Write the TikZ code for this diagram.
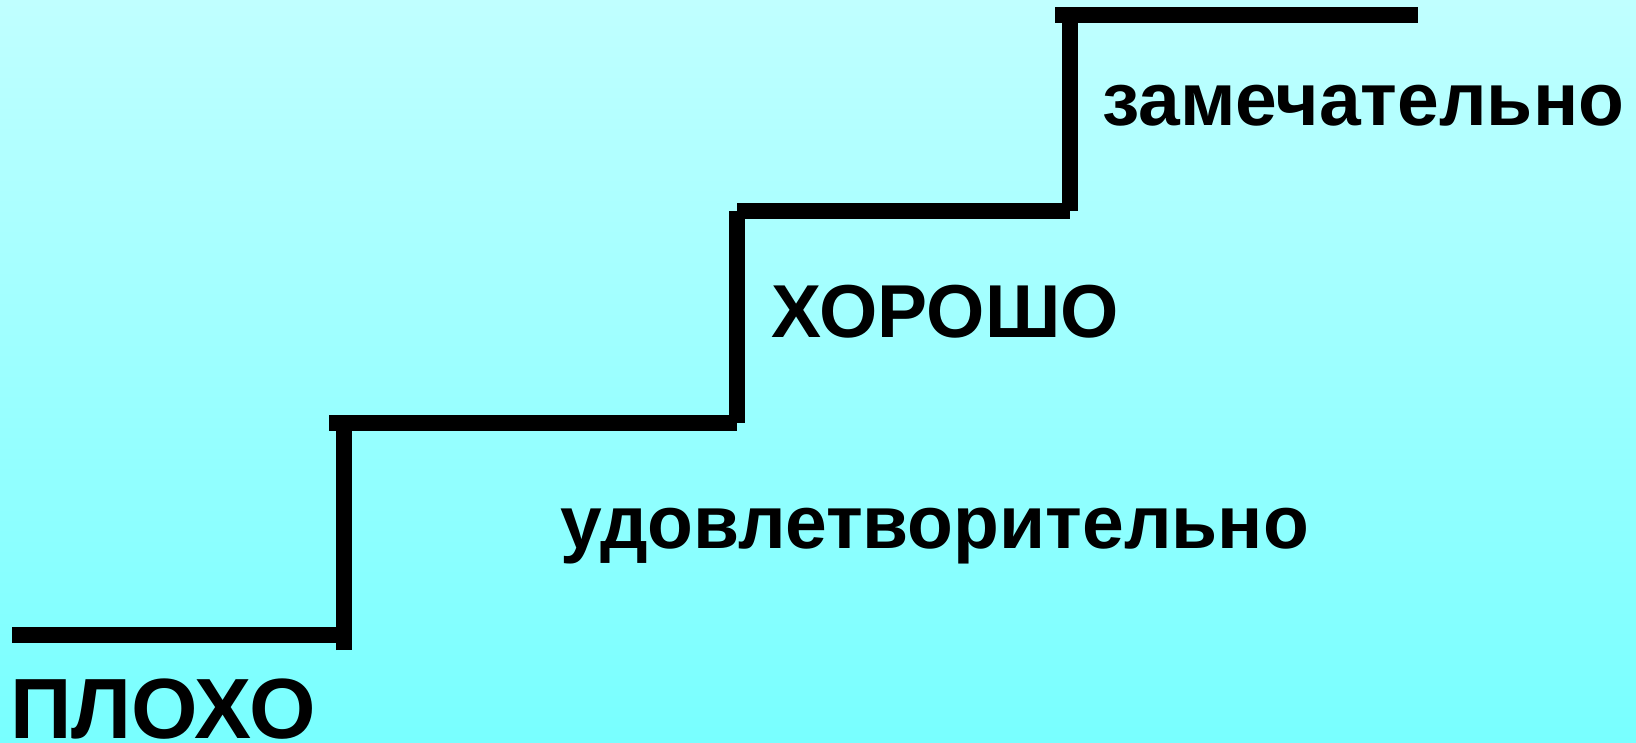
\documentclass[tikz,border=0pt]{standalone}
\usepackage{fontspec}
\setmainfont{Liberation Sans}
\definecolor{bgtop}{RGB}{192,255,255}
\definecolor{bgbot}{RGB}{120,255,255}
\begin{document}
\begin{tikzpicture}[x=1pt,y=-1pt,
  stair/.style={line width=16pt,line cap=butt,black},
  lbl/.style={anchor=base west,inner sep=0pt,font=\bfseries}]
\useasboundingbox (0,0) rectangle (1636,742);
\shade[top color=bgtop,bottom color=bgbot] (0,0) rectangle (1636,742);
% stair corners
\coordinate (h1a) at (12,635);
\coordinate (h1b) at (344,635);
\coordinate (v1a) at (344,650);
\coordinate (v1b) at (344,415);
\coordinate (h2a) at (329,423);
\coordinate (h2b) at (737,423);
\coordinate (v2a) at (737,423);
\coordinate (v2b) at (737,211);
\coordinate (h3a) at (737,211);
\coordinate (h3b) at (1070,211);
\coordinate (v3a) at (1070,211);
\coordinate (v3b) at (1070,14.5);
\coordinate (h4a) at (1055,14.5);
\coordinate (h4b) at (1418,14.5);
\draw[stair] (h1a) -- (h1b);
\draw[stair] (v1a) -- (v1b);
\draw[stair] (h2a) -- (h2b);
\draw[stair] (v2a) -- (v2b);
\draw[stair] (h3a) -- (h3b);
\draw[stair] (v3a) -- (v3b);
\draw[stair] (h4a) -- (h4b);
% labels
\node[lbl,font=\bfseries\fontsize{85.5}{90}\selectfont] (plokho) at (10,738.5) {ПЛОХО};
\node[lbl,font=\bfseries\fontsize{75}{80}\selectfont] (udovl) at (560,548) {удовлетворительно};
\node[lbl,font=\bfseries\fontsize{75}{80}\selectfont] (khor) at (771,337) {ХОРОШО};
\node[lbl,font=\bfseries\fontsize{75}{80}\selectfont] (zamech) at (1102,125) {замечательно};
\end{tikzpicture}
\end{document}
